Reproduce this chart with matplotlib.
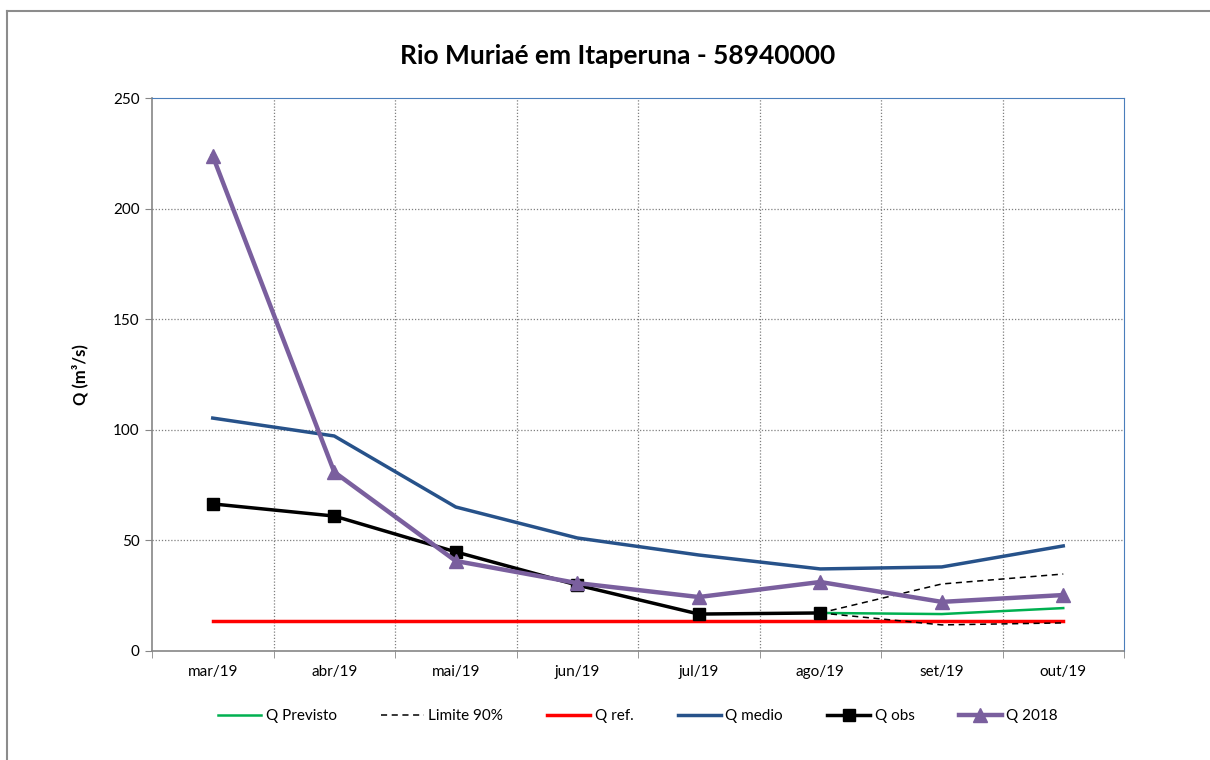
import matplotlib
matplotlib.use("Agg")
import matplotlib.pyplot as plt
from matplotlib.lines import Line2D
import numpy as np

plt.rcParams['font.family'] = ['Lato', 'DejaVu Sans']

categories = ["mar/19", "abr/19", "mai/19", "jun/19", "jul/19", "ago/19", "set/19", "out/19"]
q_medio = [105.3, 97.2, 65.1, 51.1, 43.4, 37.1, 38.0, 47.5]
q_2018 = [223.8, 80.9, 40.7, 30.7, 24.4, 31.2, 22.2, 25.3]
q_obs = [66.5, 61.0, 44.8, 29.8, 16.7, 17.2]
q_ref = [13.6] * 8
q_previsto = [17.2, 16.7, 19.4]          # ago..out
lim_sup = [17.2, 30.3, 34.8]             # ago..out
lim_inf = [17.2, 11.8, 12.7]             # ago..out
title = "Rio Muriaé em Itaperuna - 58940000"
ylabel = "Q (m³/s)"

fig = plt.figure(figsize=(12.1, 7.6), dpi=100)
# outer frame
fig.add_artist(Line2D([7/1210, 7/1210], [0, 1 - 11/760], transform=fig.transFigure, color='#8c8c8c', lw=1.5))
fig.add_artist(Line2D([7/1210, 1], [1 - 11/760, 1 - 11/760], transform=fig.transFigure, color='#8c8c8c', lw=1.5))

ax = fig.add_axes([152/1210, 109/760, (1124-152)/1210, (651-98)/760])
x = np.arange(len(categories))
xf = x[5:]

c_green = '#00B050'
c_red = '#FF0000'
c_blue = '#27528A'
c_purple = '#7A5F9E'

ax.plot(xf, q_previsto, color=c_green, lw=1.8, label='Q Previsto', zorder=3)
ax.plot(xf, lim_sup, color='black', lw=1.1, ls=(0, (4, 3)), label='Limite 90%', zorder=3)
ax.plot(xf, lim_inf, color='black', lw=1.1, ls=(0, (4, 3)), zorder=3)
ax.plot(x, q_ref, color=c_red, lw=2.5, label='Q ref.', zorder=2)
ax.plot(x, q_medio, color=c_blue, lw=2.5, label='Q medio', zorder=3)
ax.plot(x[:len(q_obs)], q_obs, color='black', lw=2.5, marker='s', ms=9, label='Q obs', zorder=4)
ax.plot(x, q_2018, color=c_purple, lw=3.2, marker='^', ms=10, label='Q 2018', zorder=5)

ax.set_xlim(-0.5, len(categories) - 0.5)
ax.set_ylim(0, 250)
ax.set_yticks([0, 50, 100, 150, 200, 250])
ax.set_xticks(x)
ax.set_xticklabels(categories)
ax.set_xticks(np.arange(-0.5, len(categories), 1), minor=True)
ax.tick_params(axis='x', which='major', length=0, pad=10, labelsize=11)
ax.tick_params(axis='x', which='minor', length=5, color='#868686')
ax.tick_params(axis='y', length=5, color='#868686', labelsize=11, pad=4)
ax.grid(False)
for v in np.arange(0.5, len(categories) - 1, 1):
    ax.axvline(v, color='#7f7f7f', lw=0.9, ls=(0, (1, 1.5)), zorder=1)
for v in [50, 100, 150, 200]:
    ax.axhline(v, color='#7f7f7f', lw=0.9, ls=(0, (1, 1.5)), zorder=1)

ax.spines['left'].set_color('#868686')
ax.spines['bottom'].set_color('#868686')
ax.spines['left'].set_linewidth(1.2)
ax.spines['bottom'].set_linewidth(1.2)
ax.spines['top'].set_color('#4A7EBB')
ax.spines['right'].set_color('#4A7EBB')

ax.set_ylabel(ylabel, fontsize=12, fontweight='bold', labelpad=18)
fig.text(618/1210, 1 - 56/760, title, ha='center', va='center', fontsize=19, fontweight='bold')

leg = ax.legend(loc='upper center', bbox_to_anchor=(0.5, -0.08), ncol=6, frameon=False,
                fontsize=11, handlelength=2.8, columnspacing=2.9, handletextpad=0.3)

fig.savefig("out.png", dpi=100)
